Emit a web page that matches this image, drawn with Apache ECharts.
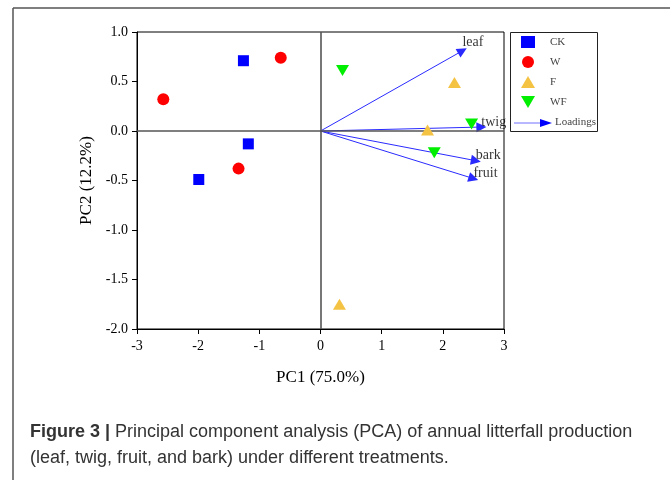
<!DOCTYPE html>
<html>
<head>
<meta charset="utf-8">
<script src="https://cdn.jsdelivr.net/npm/echarts@6/dist/echarts.min.js"></script>
<style>
    html, body { margin: 0; padding: 0; background: #fff; }
    #main { width: 670px; height: 480px; }
</style>
</head>
<body>
<div id="main"></div>
<script>
    // scores (PC1, PC2) per treatment
    var ckPoints = [[-1.26, 0.71], [-1.18, -0.13], [-1.99, -0.49]];
    var wPoints = [[-2.57, 0.32], [-0.65, 0.74], [-1.34, -0.38]];
    var fPoints = [[2.19, 0.49], [1.75, 0.01], [0.31, -1.75]];
    var wfPoints = [[0.36, 0.61], [2.47, 0.07], [1.86, -0.22]];

    // loadings
    var loadingNames = ['leaf', 'twig', 'bark', 'fruit'];
    var loadingPC1 = [2.32, 2.63, 2.54, 2.50];
    var loadingPC2 = [0.81, 0.04, -0.30, -0.48];

    var xTicks = [-3, -2, -1, 0, 1, 2, 3];
    var yTicks = [-2.0, -1.5, -1.0, -0.5, 0.0, 0.5, 1.0];

    var serif = 'Liberation Serif';
    var downTriangle = 'path://M0,0 L2,0 L1,1.7 Z';

    var loadLines = [];
    var loadLabels = [];
    for (var i = 0; i < loadingNames.length; i++) {
        loadLines.push({ coords: [[0, 0], [loadingPC1[i], loadingPC2[i]]] });
        loadLabels.push({
            name: loadingNames[i],
            value: [loadingPC1[i], loadingPC2[i]],
            label: { offset: i == 0 ? [0, -8] : [0, -5] }
        });
    }

    var myChart = echarts.init(document.getElementById('main'));

    var option = {
        animation: false,
        backgroundColor: '#fff',
        grid: {
            left: 137, top: 32, width: 367, height: 297,
            show: true, borderColor: '#000', borderWidth: 1
        },
        xAxis: {
            type: 'value', min: xTicks[0], max: xTicks[xTicks.length - 1], interval: 1,
            name: 'PC1 (75.0%)', nameLocation: 'middle', nameGap: 40,
            nameTextStyle: { fontFamily: serif, fontSize: 17, color: '#000' },
            axisLine: { onZero: false, lineStyle: { color: '#000', width: 1 } },
            axisTick: { show: true, length: 5, lineStyle: { color: '#000' } },
            axisLabel: { fontFamily: serif, fontSize: 14, color: '#000', margin: 10 },
            splitLine: { show: false }
        },
        yAxis: {
            type: 'value', min: yTicks[0], max: yTicks[yTicks.length - 1], interval: 0.5,
            name: 'PC2 (12.2%)', nameLocation: 'middle', nameGap: 30,
            nameTextStyle: { fontFamily: serif, fontSize: 17, color: '#000' },
            axisLine: { show: true, onZero: false, lineStyle: { color: '#000', width: 1 } },
            axisTick: { show: true, length: 5, lineStyle: { color: '#000' } },
            axisLabel: {
                fontFamily: serif, fontSize: 14, color: '#000', margin: 9,
                formatter: function (v) { return v.toFixed(1); }
            },
            splitLine: { show: false }
        },
        legend: {
            orient: 'vertical',
            left: 521, top: 36,
            padding: 0,
            itemWidth: 14, itemHeight: 12, itemGap: 8,
            data: ['CK', 'W', 'F', 'WF'],
            textStyle: { fontFamily: serif, fontSize: 11, color: '#444', padding: [0, 0, 0, 10] }
        },
        series: [
            {
                // zero lines
                type: 'line', data: [], silent: true,
                markLine: {
                    silent: true, symbol: 'none', label: { show: false },
                    lineStyle: { color: '#555', width: 1.6, type: 'solid' },
                    data: [{ xAxis: 0 }, { yAxis: 0 }]
                }
            },
            {
                name: 'Loadings', type: 'lines', coordinateSystem: 'cartesian2d',
                symbol: ['none', 'triangle'], symbolSize: [11, 10],
                lineStyle: { color: '#2a2aff', width: 1, opacity: 1 },
                itemStyle: { color: '#0000ff' },
                data: loadLines, z: 3
            },
            {
                name: 'loadLabels', type: 'scatter', symbolSize: 0, data: loadLabels,
                label: {
                    show: true, position: 'right', distance: 0,
                    formatter: '{b}', fontFamily: serif, fontSize: 14, color: '#000'
                },
                z: 4
            },
            { name: 'CK', type: 'scatter', symbol: 'rect', symbolSize: 11, itemStyle: { color: '#0000ff', opacity: 1 }, data: ckPoints, z: 5 },
            { name: 'W', type: 'scatter', symbol: 'circle', symbolSize: 12, itemStyle: { color: '#ff0000', opacity: 1 }, data: wPoints, z: 5 },
            { name: 'F', type: 'scatter', symbol: 'triangle', symbolSize: [13, 11], itemStyle: { color: '#f5c343', opacity: 1 }, data: fPoints, z: 5 },
            { name: 'WF', type: 'scatter', symbol: downTriangle, symbolSize: [13, 11], itemStyle: { color: '#00ee00', opacity: 1 }, data: wfPoints, z: 5 }
        ],
        graphic: [
            // figure frame
            { type: 'line', shape: { x1: 13, y1: 8, x2: 670, y2: 8 }, style: { stroke: '#555', lineWidth: 1.5 } },
            { type: 'line', shape: { x1: 13, y1: 8, x2: 13, y2: 480 }, style: { stroke: '#555', lineWidth: 1.5 } },
            // legend box
            { type: 'rect', shape: { x: 510.5, y: 32.5, width: 87, height: 99 }, style: { fill: null, stroke: '#222', lineWidth: 1 } },
            { type: 'line', shape: { x1: 514, y1: 123, x2: 542, y2: 123 }, style: { stroke: '#7070ff', lineWidth: 1 } },
            { type: 'polygon', shape: { points: [[540, 119], [552, 123], [540, 127]] }, style: { fill: '#0000ff' } },
            { type: 'text', left: 555, top: 117, style: { text: 'Loadings', font: '11px ' + serif, fill: '#444' } },
            // caption
            {
                type: 'text', left: 30, top: 419,
                style: {
                    text: '{b|Figure 3 |} Principal component analysis (PCA) of annual litterfall production\n(leaf, twig, fruit, and bark) under different treatments.',
                    font: '18px Liberation Sans', fill: '#333', lineHeight: 26,
                    rich: { b: { fontWeight: 'bold', fontSize: 18, fontFamily: 'Liberation Sans', fill: '#333' } }
                }
            }
        ]
    };

    myChart.setOption(option);
</script>
</body>
</html>
